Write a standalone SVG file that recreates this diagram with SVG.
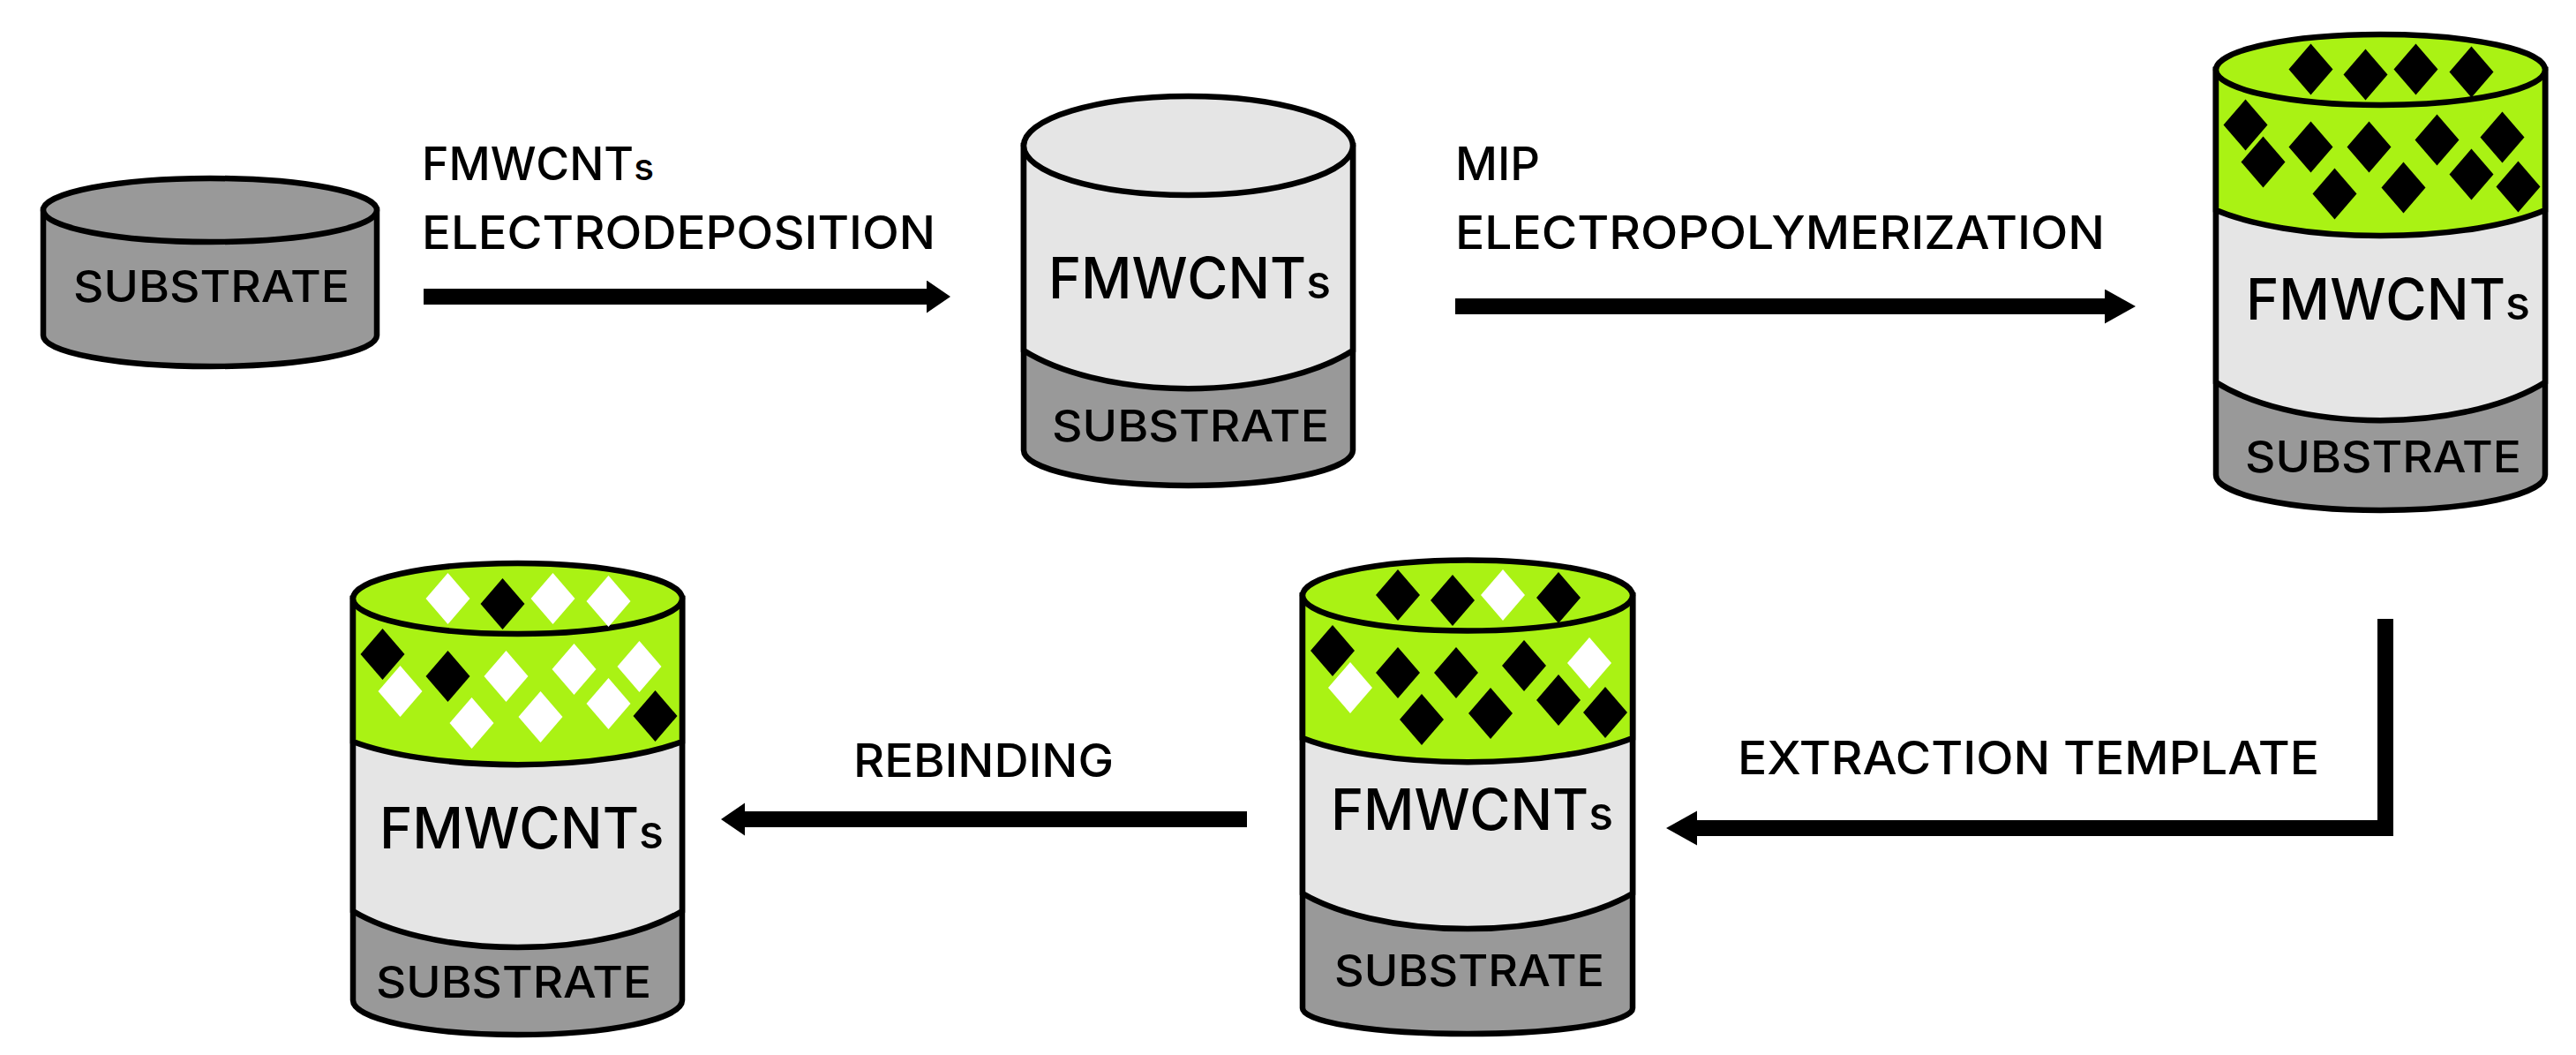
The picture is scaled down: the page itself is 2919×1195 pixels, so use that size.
<svg xmlns="http://www.w3.org/2000/svg" width="2919" height="1195" viewBox="0 0 2919 1195">
<style>
text{font-family:Inter,"Liberation Sans",sans-serif;font-weight:500;fill:#000}
.lbl{font-size:52px}
.sub{font-size:49px}
.fm{font-size:64px}
.s{font-size:82%}
.g{fill:#999;stroke:#000;stroke-width:6.5}
.l{fill:#e5e5e5;stroke:#000;stroke-width:6.5}
.v{fill:#aaf214;stroke:#000;stroke-width:6.5}
.k{fill:#000}
.w{fill:#fff}
.c{fill:none;stroke:#000;stroke-width:18;stroke-linejoin:miter}
</style>
<defs>
<polygon id="d" points="0,-29 25,0 0,29 -25,0"/>
<marker id="a1" markerUnits="userSpaceOnUse" markerWidth="28" markerHeight="38" refX="0" refY="18.500" orient="auto"><path d="M0,0L27,18.500L0,37Z"/></marker>
<marker id="a2" markerUnits="userSpaceOnUse" markerWidth="36" markerHeight="40" refX="0" refY="19.500" orient="auto"><path d="M0,0L35,19.500L0,39Z"/></marker>
</defs>
<rect width="2919" height="1195" fill="#fff"/>
<g id="connectors">
<path class="c" d="M480,336H1050" marker-end="url(#a1)"/>
<path class="c" d="M1649,347H2385" marker-end="url(#a2)"/>
<path class="c" d="M2703,701V938H1923" marker-end="url(#a2)"/>
<path class="c" d="M1413,928H844" marker-end="url(#a1)"/>
</g>
<g id="label-1">
<text class="lbl" x="478" y="204" textLength="263" lengthAdjust="spacingAndGlyphs">FMWCNT<tspan class="s">s</tspan></text>
<text class="lbl" x="478" y="282" textLength="582" lengthAdjust="spacingAndGlyphs">ELECTRODEPOSITION</text>
</g>
<g id="label-2">
<text class="lbl" x="1649" y="204" textLength="96" lengthAdjust="spacingAndGlyphs">MIP</text>
<text class="lbl" x="1649" y="282" textLength="736" lengthAdjust="spacingAndGlyphs">ELECTROPOLYMERIZATION</text>
</g>
<g id="label-3">
<text class="lbl" x="1969" y="877" textLength="659" lengthAdjust="spacingAndGlyphs">EXTRACTION TEMPLATE</text>
</g>
<g id="label-4">
<text class="lbl" x="967" y="880" textLength="295" lengthAdjust="spacingAndGlyphs">REBINDING</text>
</g>
<g id="cylinder-1">
<path class="g" d="M49,238V380A189,35 0 0 0 427,380V238Z"/>
<ellipse class="g" cx="238" cy="238" rx="189" ry="36"/>
<text class="sub" x="83" y="342" textLength="313" lengthAdjust="spacingAndGlyphs">SUBSTRATE</text>
</g>
<g id="cylinder-2">
<path class="g" d="M1160,165V510A186.500,40 0 0 0 1533,510V165Z"/>
<path class="l" d="M1160,165V397A230,104 0 0 0 1533,397V165Z"/>
<ellipse class="l" cx="1346.500" cy="165" rx="186.500" ry="56"/>
<text class="fm" x="1188" y="338" textLength="320" lengthAdjust="spacingAndGlyphs">FMWCNT<tspan class="s">s</tspan></text>
<text class="sub" x="1192" y="500" textLength="314" lengthAdjust="spacingAndGlyphs">SUBSTRATE</text>
</g>
<g id="cylinder-3">
<path class="g" d="M2511,79V538A186.500,40 0 0 0 2884,538V79Z"/>
<path class="l" d="M2511,79V433A230,104 0 0 0 2884,433V79Z"/>
<path class="v" d="M2511,79V238A230,70 0 0 0 2884,238V79Z"/>
<ellipse class="v" cx="2697.500" cy="79" rx="186.500" ry="40"/>
<g class="k" transform="translate(2697.500,35.500)">
<use href="#d" x="-79" y="43"/><use href="#d" x="-17" y="49"/><use href="#d" x="40" y="43"/><use href="#d" x="103" y="46"/>
<use href="#d" x="-153" y="106"/><use href="#d" x="-133" y="148"/><use href="#d" x="-79" y="131"/><use href="#d" x="-13" y="131"/>
<use href="#d" x="64" y="123"/><use href="#d" x="138" y="120"/><use href="#d" x="103" y="162"/><use href="#d" x="156" y="176"/>
<use href="#d" x="-52" y="184"/><use href="#d" x="26" y="177"/>
</g>
<text class="fm" x="2545" y="362" textLength="322" lengthAdjust="spacingAndGlyphs">FMWCNT<tspan class="s">s</tspan></text>
<text class="sub" x="2544" y="535" textLength="313" lengthAdjust="spacingAndGlyphs">SUBSTRATE</text>
</g>
<g id="cylinder-4">
<path class="g" d="M400,678V1133A186.500,39 0 0 0 773,1133V678Z"/>
<path class="l" d="M400,678V1032A230,99 0 0 0 773,1032V678Z"/>
<path class="v" d="M400,678V840A230,63 0 0 0 773,840V678Z"/>
<ellipse class="v" cx="586.500" cy="678" rx="186.500" ry="40"/>
<g transform="translate(586.500,635)">
<use class="w" href="#d" x="-79" y="43"/><use class="k" href="#d" x="-17" y="49"/><use class="w" href="#d" x="40" y="43"/><use class="w" href="#d" x="103" y="46"/>
<use class="k" href="#d" x="-153" y="106"/><use class="w" href="#d" x="-133" y="148"/><use class="k" href="#d" x="-79" y="131"/><use class="w" href="#d" x="-13" y="131"/>
<use class="w" href="#d" x="64" y="123"/><use class="w" href="#d" x="138" y="120"/><use class="w" href="#d" x="103" y="162"/><use class="k" href="#d" x="156" y="176"/>
<use class="w" href="#d" x="-52" y="184"/><use class="w" href="#d" x="26" y="177"/>
</g>
<text class="fm" x="430" y="961" textLength="322" lengthAdjust="spacingAndGlyphs">FMWCNT<tspan class="s">s</tspan></text>
<text class="sub" x="426" y="1130" textLength="312" lengthAdjust="spacingAndGlyphs">SUBSTRATE</text>
</g>
<g id="cylinder-5">
<path class="g" d="M1476,674.500V1142A187,29 0 0 0 1850,1142V674.500Z"/>
<path class="l" d="M1476,674.500V1012A230,96 0 0 0 1850,1012V674.500Z"/>
<path class="v" d="M1476,674.500V836A230,65 0 0 0 1850,836V674.500Z"/>
<ellipse class="v" cx="1663" cy="674.500" rx="187" ry="40"/>
<g transform="translate(1663,631)">
<use class="k" href="#d" x="-79" y="43"/><use class="k" href="#d" x="-17" y="49"/><use class="w" href="#d" x="40" y="43"/><use class="k" href="#d" x="103" y="46"/>
<use class="k" href="#d" x="-153" y="106"/><use class="w" href="#d" x="-133" y="148"/><use class="k" href="#d" x="-79" y="131"/><use class="k" href="#d" x="-13" y="131"/>
<use class="k" href="#d" x="64" y="123"/><use class="w" href="#d" x="138" y="120"/><use class="k" href="#d" x="103" y="162"/><use class="k" href="#d" x="156" y="176"/>
<use class="k" href="#d" x="-52" y="184"/><use class="k" href="#d" x="26" y="177"/>
</g>
<text class="fm" x="1508" y="940" textLength="320" lengthAdjust="spacingAndGlyphs">FMWCNT<tspan class="s">s</tspan></text>
<text class="sub" x="1512" y="1117" textLength="306" lengthAdjust="spacingAndGlyphs">SUBSTRATE</text>
</g>
</svg>
